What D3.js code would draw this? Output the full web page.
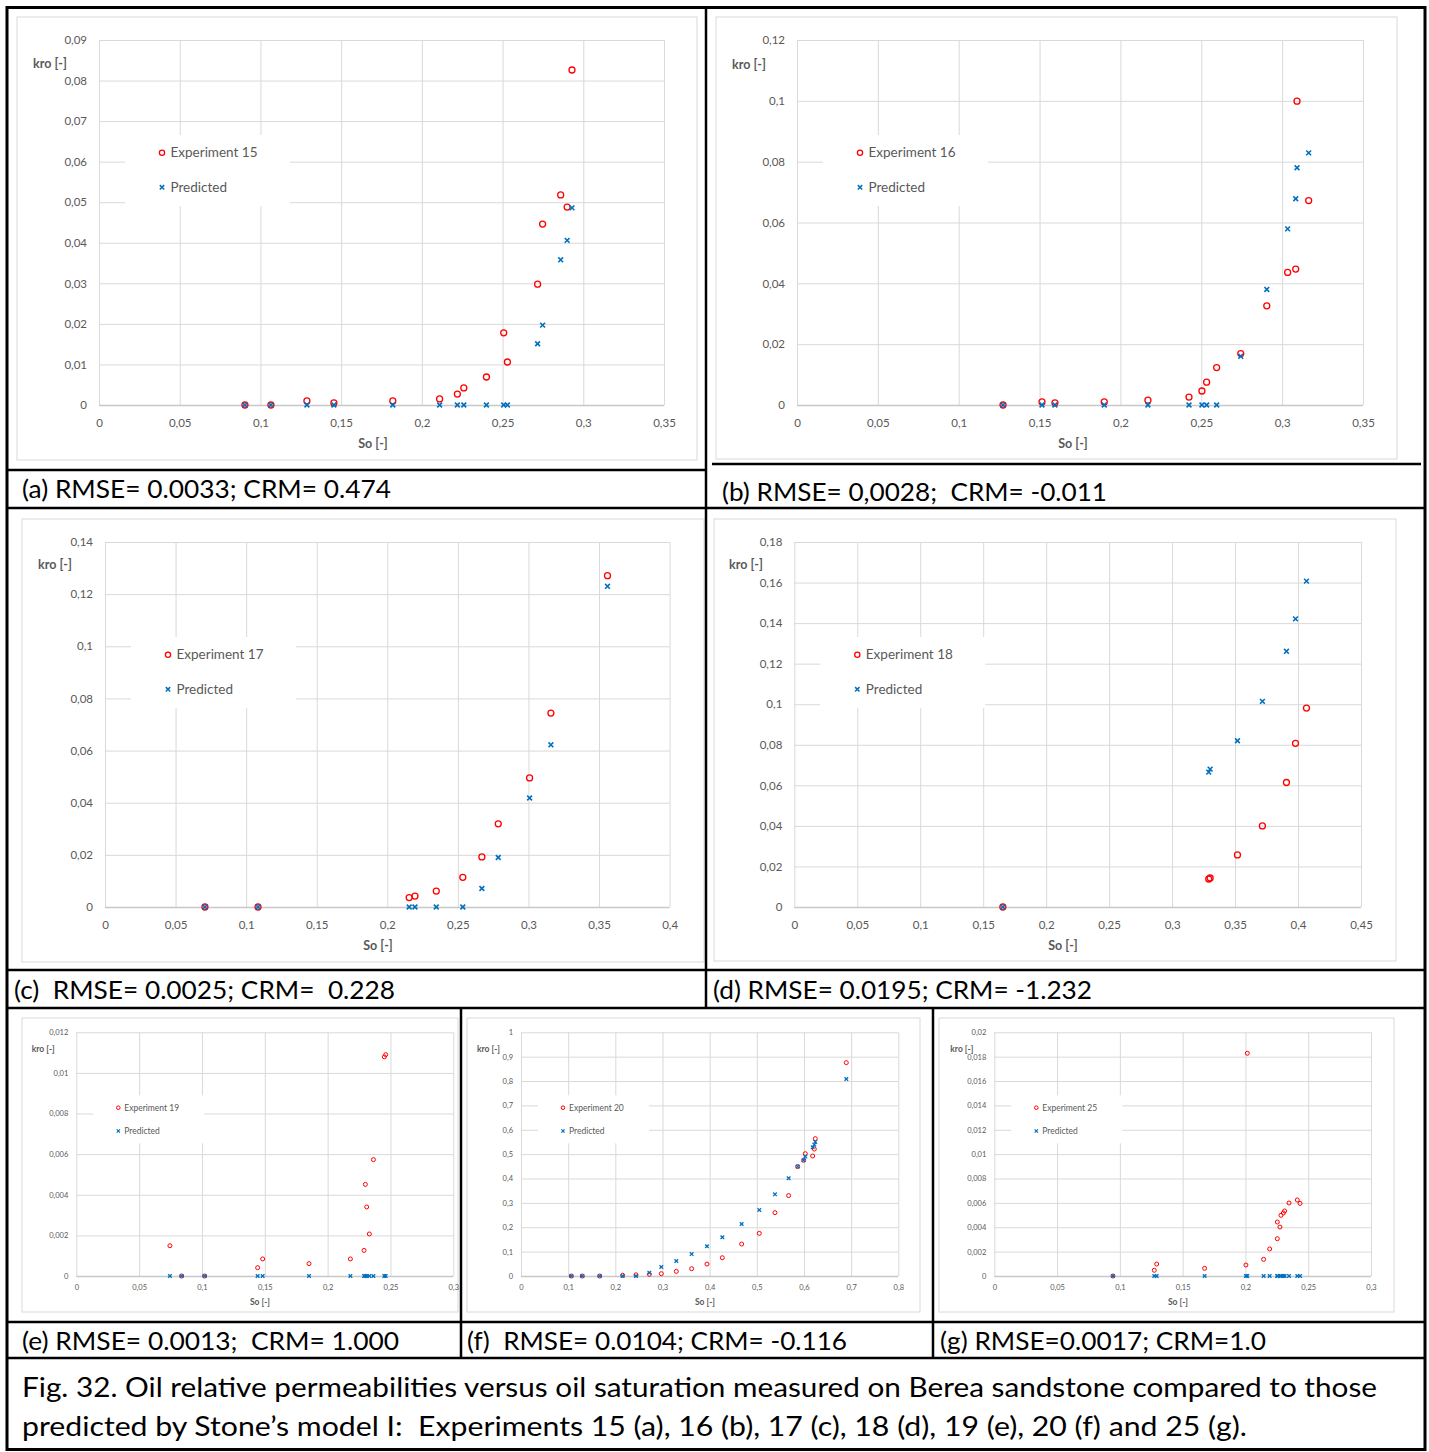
<!DOCTYPE html>
<html><head><meta charset="utf-8">
<script src="https://cdn.jsdelivr.net/npm/d3@7"></script>
<style>
body{margin:0;background:#fff;}
svg text{font-family:Lato,"Open Sans",sans-serif;}
</style></head><body>
<svg id="fig" width="1429" height="1452"></svg>
<script>
// ---------------- DATA ----------------
// Experiment 15 (a)
const so15   = [0.0904,0.1065,0.1288,0.1455,0.182,0.211,0.222,0.226,0.240,0.2507,0.253,0.2717,0.2748,0.286,0.290,0.293];
const exp15  = [0,0,0.001,0.0005,0.001,0.0015,0.0027,0.0042,0.0069,0.0178,0.0106,0.0298,0.0446,0.0518,0.0488,0.0826];
const pred15 = [0,0,0,0,0,0,0,0,0,0,0,0.0151,0.0197,0.0358,0.0406,0.0486];
// Experiment 16 (b)
const so16   = [0.1274,0.1515,0.1595,0.190,0.217,0.2424,0.2504,0.2533,0.2595,0.2744,0.2905,0.3034,0.3084,0.3092,0.3164];
const exp16  = [0,0.001,0.0007,0.001,0.0016,0.0026,0.0046,0.0075,0.0123,0.0169,0.0326,0.0436,0.0447,0.0999,0.0672];
const pred16 = [0,0,0,0,0,0,0,0,0,0.016,0.038,0.0579,0.0678,0.078,0.0829];
// Experiment 17 (c)
const so17   = [0.0708,0.1084,0.2155,0.2196,0.2347,0.2535,0.267,0.2786,0.3008,0.3159,0.356];
const exp17  = [0,0,0.0036,0.0042,0.0061,0.0114,0.0192,0.0319,0.0495,0.0744,0.1271];
const pred17 = [0,0,0,0,0,0,0.0071,0.019,0.0418,0.0622,0.123];
// Experiment 18 (d)
const so18   = [0.1656,0.3291,0.3302,0.3519,0.3717,0.3908,0.398,0.4067];
const exp18  = [0,0.0138,0.0143,0.0257,0.04,0.0614,0.0807,0.0981];
const pred18 = [0,0.0665,0.068,0.082,0.1014,0.1261,0.1421,0.1607];
// Experiment 19 (e)
const so19   = [0.0745,0.0838,0.1021,0.1443,0.1483,0.1852,0.2181,0.229,0.230,0.2311,0.2332,0.2364,0.2451,0.2462];
const exp19  = [0.00149,0,0,0.00041,0.00084,0.00061,0.00084,0.00126,0.00451,0.0034,0.00207,0.00573,0.01079,0.0109];
const pred19 = [0,0,0,0,0,0,0,0,0,0,0,0,0,0];
// Experiment 20 (f)
const so20   = [0.1067,0.130,0.1668,0.2155,0.2438,0.2721,0.2975,0.3293,0.3618,0.3943,0.4269,0.4678,0.5053,0.5385,0.5675,0.5866,0.5993,0.6028,0.6184,0.6219,0.6240,0.6898];
const exp20  = [0,0,0,0.003,0.005,0.007,0.0096,0.019,0.030,0.049,0.075,0.131,0.175,0.260,0.330,0.449,0.475,0.502,0.4925,0.521,0.5636,0.8755];
const pred20 = [0,0,0,0,0,0.0137,0.037,0.0616,0.090,0.122,0.159,0.2134,0.271,0.335,0.401,0.449,0.475,0.490,0.528,0.539,0.550,0.8085];
// Experiment 25 (g)
const so25   = [0.0945,0.1274,0.1293,0.1675,0.2004,0.2015,0.2145,0.2193,0.2254,0.2254,0.2275,0.2283,0.2302,0.2312,0.2347,0.2413,0.2435];
const exp25  = [0,0.00047,0.00098,0.00063,0.0009,0.01828,0.00137,0.00222,0.00306,0.00443,0.00402,0.00498,0.00517,0.00534,0.00599,0.00624,0.00596];
const pred25 = [0,0,0,0,0,0,0,0,0,0,0,0,0,0,0,0,0];

// tick values
const xTicks035 = [0,0.05,0.1,0.15,0.2,0.25,0.3,0.35];
const xTicks040 = [0,0.05,0.1,0.15,0.2,0.25,0.3,0.35,0.4];
const xTicks045 = [0,0.05,0.1,0.15,0.2,0.25,0.3,0.35,0.4,0.45];
const xTicks030 = [0,0.05,0.1,0.15,0.2,0.25,0.3];
const xTicks080 = [0,0.1,0.2,0.3,0.4,0.5,0.6,0.7,0.8];
const yTicksA = [0,0.01,0.02,0.03,0.04,0.05,0.06,0.07,0.08,0.09];
const yTicksB = [0,0.02,0.04,0.06,0.08,0.1,0.12];
const yTicksC = [0,0.02,0.04,0.06,0.08,0.1,0.12,0.14];
const yTicksD = [0,0.02,0.04,0.06,0.08,0.1,0.12,0.14,0.16,0.18];
const yTicksE = [0,0.002,0.004,0.006,0.008,0.01,0.012];
const yTicksF = [0,0.1,0.2,0.3,0.4,0.5,0.6,0.7,0.8,0.9,1];
const yTicksG = [0,0.002,0.004,0.006,0.008,0.01,0.012,0.014,0.016,0.018,0.02];

// labels
const legendNames = ["Experiment 15","Experiment 16","Experiment 17","Experiment 18","Experiment 19","Experiment 20","Experiment 25"];
const predName = "Predicted";
const yTitle = "kro [-]";
const xTitle = "So [-]";
const panelCaptions = [
  "(a) RMSE= 0.0033; CRM= 0.474",
  "(b) RMSE= 0,0028;  CRM= -0.011",
  "(c)  RMSE= 0.0025; CRM=  0.228",
  "(d) RMSE= 0.0195; CRM= -1.232",
  "(e) RMSE= 0.0013;  CRM= 1.000",
  "(f)  RMSE= 0.0104; CRM= -0.116",
  "(g) RMSE=0.0017; CRM=1.0"
];
const figCaption = [
  "Fig. 32. Oil relative permeabilities versus oil saturation measured on Berea sandstone compared to those",
  "predicted by Stone\u2019s model I:  Experiments 15 (a), 16 (b), 17 (c), 18 (d), 19 (e), 20 (f) and 25 (g)."
];

// ---------------- DRAW ----------------
const svg = d3.select("#fig");
svg.append("rect").attr("width",1429).attr("height",1452).attr("fill","#fff");

const fmt = v => String(+v.toFixed(6)).replace(".", ",");

function panel(L, so, exp, pred, name, xTicks, yTicks, xmax, ymax) {
  const g = svg.append("g");
  const [bx,by,bw,bh] = L.box;
  g.append("rect").attr("x",bx).attr("y",by).attr("width",bw).attr("height",bh)
    .attr("fill","#fff").attr("stroke","#d9d9d9").attr("stroke-width",1);
  const [pl,pt,pr,pb] = L.plot;
  const x = d3.scaleLinear().domain([0,xmax]).range([pl,pr]);
  const y = d3.scaleLinear().domain([0,ymax]).range([pb,pt]);
  const big = L.big;
  const tfs = big ? 11.5 : 7.5;

  const gx = g.append("g").attr("transform",`translate(0,${pb})`)
    .call(d3.axisBottom(x).tickValues(xTicks).tickSize(-(pb-pt)).tickPadding(big?14:9).tickFormat(fmt));
  const gy = g.append("g").attr("transform",`translate(${pl},0)`)
    .call(d3.axisLeft(y).tickValues(yTicks).tickSize(-(pr-pl)).tickPadding(big?12:8).tickFormat(fmt));
  [gx,gy].forEach(a=>{
    a.select(".domain").remove();
    a.selectAll(".tick line").attr("stroke","#d9d9d9").attr("stroke-width",1);
    a.selectAll(".tick text").attr("fill","#595959").attr("font-size",tfs).style("font-family","Lato,sans-serif");
  });
  gy.selectAll(".tick").filter(d=>d===0).select("line").attr("stroke","#c8c8c8").attr("stroke-width",1.4);

  // axis titles
  g.append("text").attr("x",L.kro[0]).attr("y",L.kro[1]).attr("dy","0.35em")
    .attr("font-size",big?12.5:8.5).attr("font-weight","bold").attr("fill","#595959").text(yTitle);
  g.append("text").attr("x",L.so[0]).attr("y",L.so[1]).attr("dy","0.35em").attr("text-anchor","middle")
    .attr("font-size",big?12.5:8.5).attr("font-weight","bold").attr("fill","#595959").text(xTitle);

  // legend
  const lg = big ? {x0:26,x1:191,y0:95,y1:166,m:63,e1:112.7,e2:147.3,tx:8.5,fs:13.5}
                 : {x0:17,x1:128,y0:63,y1:111,m:42,e1:75.4,e2:98.7,tx:6,fs:8.5};
  g.append("rect").attr("x",pl+lg.x0).attr("y",pt+lg.y0).attr("width",lg.x1-lg.x0).attr("height",lg.y1-lg.y0).attr("fill","#fff");
  const r = big?3:2, s = big?2.4:1.8;
  const sw = big?1.3:1;
  const cross = k => `M${-k},${-k}L${k},${k}M${-k},${k}L${k},${-k}`;
  g.append("circle").attr("cx",pl+lg.m).attr("cy",pt+lg.e1).attr("r",big?2.6:1.8)
    .attr("fill","none").attr("stroke","#ff0000").attr("stroke-width",sw);
  g.append("path").attr("transform",`translate(${pl+lg.m},${pt+lg.e2})`).attr("d",cross(big?2.2:1.6))
    .attr("stroke","#0070c0").attr("stroke-width",sw+0.2).attr("fill","none");
  g.append("text").attr("x",pl+lg.m+lg.tx).attr("y",pt+lg.e1).attr("dy","0.35em")
    .attr("font-size",lg.fs).attr("fill","#595959").text(name);
  g.append("text").attr("x",pl+lg.m+lg.tx).attr("y",pt+lg.e2).attr("dy","0.35em")
    .attr("font-size",lg.fs).attr("fill","#595959").text(predName);

  // data
  const rows = so.map((v,i)=>({so:v, e:exp[i], p:pred[i]}));
  g.append("g").selectAll("circle").data(rows).join("circle")
    .attr("cx",d=>x(d.so)).attr("cy",d=>y(d.e)).attr("r",r)
    .attr("fill","none").attr("stroke","#ff0000").attr("stroke-width",sw);
  g.append("g").selectAll("path").data(rows).join("path")
    .attr("transform",d=>`translate(${x(d.so)},${y(d.p)})`).attr("d",cross(s))
    .attr("fill","none").attr("stroke","#0070c0").attr("stroke-width",sw+0.3);
}

panel({box:[17,17,680,443], plot:[99,40,664,405], big:true, kro:[33,64], so:[373,444]},
      so15,exp15,pred15,legendNames[0],xTicks035,yTicksA,0.35,0.09);
panel({box:[716,17,681,442], plot:[797,40,1363,405], big:true, kro:[732,65], so:[1073,444]},
      so16,exp16,pred16,legendNames[1],xTicks035,yTicksB,0.35,0.12);
panel({box:[22,519,682,443], plot:[105,542,669.6,907], big:true, kro:[38,565], so:[378,946]},
      so17,exp17,pred17,legendNames[2],xTicks040,yTicksC,0.4,0.14);
panel({box:[714,519,682,442], plot:[794.3,542,1361,907], big:true, kro:[729,565], so:[1063,946]},
      so18,exp18,pred18,legendNames[3],xTicks045,yTicksD,0.45,0.18);
panel({box:[22,1018,436,294], plot:[76.3,1032.3,453.3,1276], big:false, kro:[31.7,1049], so:[260,1302]},
      so19,exp19,pred19,legendNames[4],xTicks030,yTicksE,0.3,0.012);
panel({box:[467,1018,453,294], plot:[521,1032.3,898.3,1276], big:false, kro:[477,1049], so:[705,1302]},
      so20,exp20,pred20,legendNames[5],xTicks080,yTicksF,0.8,1);
panel({box:[939,1018,455,294], plot:[994.3,1032.3,1371,1276], big:false, kro:[950.3,1049], so:[1178,1302]},
      so25,exp25,pred25,legendNames[6],xTicks030,yTicksG,0.3,0.02);

// table borders
const lines = [
  [7,470,706,470],[712,464,1421,464],[7,508,1425,508],
  [706,7,706,1008],
  [7,970,1425,970],[7,1008,1425,1008],
  [461,1008,461,1358],[933,1008,933,1358],
  [7,1322,1425,1322],[7,1358,1425,1358]
];
svg.append("g").selectAll("line").data(lines).join("line")
  .attr("x1",d=>d[0]).attr("y1",d=>d[1]).attr("x2",d=>d[2]).attr("y2",d=>d[3])
  .attr("stroke","#000").attr("stroke-width",2.5);
svg.append("rect").attr("x",7).attr("y",7.5).attr("width",1418).attr("height",1442)
  .attr("fill","none").attr("stroke","#000").attr("stroke-width",3);

// captions
const capPos = [[22,498,369],[722,501,385],[14,999,381],[713,999,379],[22,1350,377],[467,1350,380],[940,1350,326]];
panelCaptions.forEach((t,i)=>{
  const [cx,cy,w] = capPos[i];
  svg.append("text").attr("x",cx).attr("y",cy).attr("font-size",25).attr("fill","#000")
    .style("white-space","pre").attr("textLength",w).attr("lengthAdjust","spacingAndGlyphs").text(t);
});
svg.append("text").attr("x",22).attr("y",1397).attr("font-size",26).attr("fill","#000")
  .style("white-space","pre").attr("textLength",1355).attr("lengthAdjust","spacingAndGlyphs").text(figCaption[0]);
svg.append("text").attr("x",22).attr("y",1436).attr("font-size",26).attr("fill","#000")
  .style("white-space","pre").attr("textLength",1225).attr("lengthAdjust","spacingAndGlyphs").text(figCaption[1]);
</script>
</body></html>
